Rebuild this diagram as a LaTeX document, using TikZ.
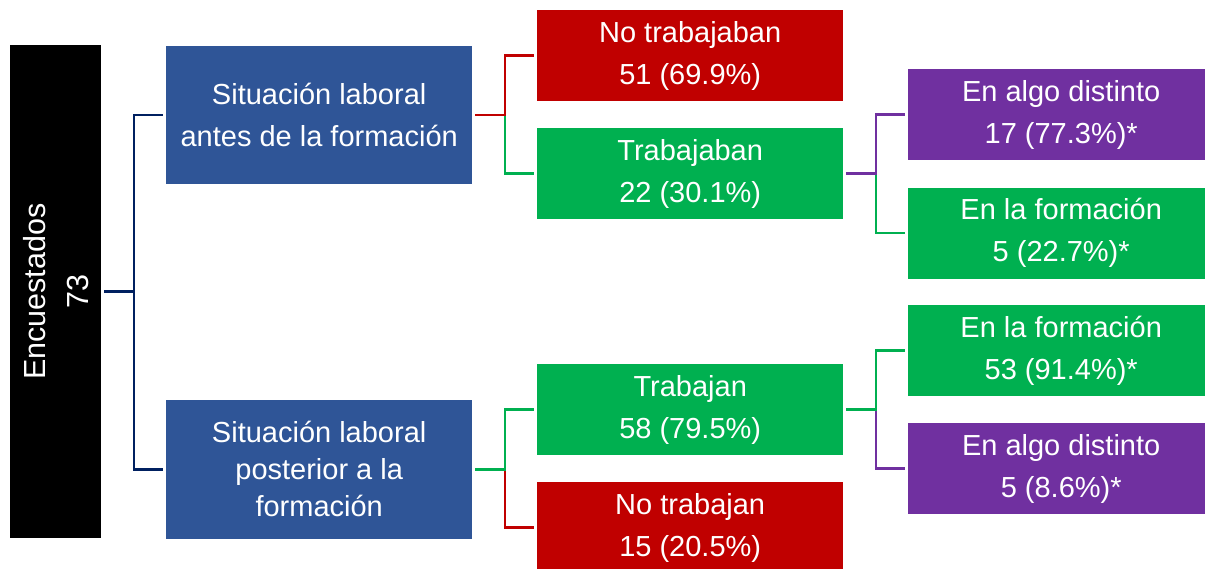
\documentclass[tikz,border=0pt]{standalone}
\usepackage{fontspec}
\setmainfont{Liberation Sans}
\definecolor{cblue}{HTML}{2F5597}
\definecolor{cred}{HTML}{C00000}
\definecolor{cgreen}{HTML}{00B050}
\definecolor{cpurple}{HTML}{7030A0}
\definecolor{cnavy}{HTML}{002060}
\tikzset{
  box/.style={rectangle, inner sep=0pt, anchor=north west, text=white, align=center,
    font=\fontsize{29}{42}\selectfont},
  smallbox/.style={box, minimum width=306pt, minimum height=91pt},
  bigbox/.style={box, fill=cblue, minimum width=306pt, minimum height=138.5pt},
  conn/.style={line width=2.6pt, shorten <=3pt, shorten >=3pt}
}
\begin{document}
\begin{tikzpicture}[x=1pt,y=-1pt]
\useasboundingbox (0,0) rectangle (1205,569);
\clip (0,0) rectangle (1205,569);
\fill[white] (0,0) rectangle (1205,569);
% boxes
\node[box, fill=black, minimum width=91pt, minimum height=493pt] (enc) at (10,45) {};
\node[rotate=90, text=white, align=center, font=\fontsize{30.5}{43}\selectfont] (enctext) at (enc.center) {Encuestados\\73};
\node[bigbox] (b1) at (166,45.5) {Situación laboral\\antes de la formación};
\node[bigbox, font=\fontsize{29}{37}\selectfont] (b2) at (166,400) {Situación laboral\\posterior a la\\formación};
\node[smallbox, fill=cred] (r1) at (537,10) {No trabajaban\\51 (69.9\%)};
\node[smallbox, fill=cgreen] (g1) at (537,128) {Trabajaban\\22 (30.1\%)};
\node[smallbox, fill=cgreen] (g4) at (537,364) {Trabajan\\58 (79.5\%)};
\node[smallbox, fill=cred] (r2) at (537,482) {No trabajan\\15 (20.5\%)};
\node[smallbox, fill=cpurple] (p1) at (908,69) {En algo distinto\\17 (77.3\%)*};
\node[smallbox, fill=cgreen] (g2) at (908,187.5) {En la formación\\5 (22.7\%)*};
\node[smallbox, fill=cgreen] (g3) at (908,305) {En la formación\\53 (91.4\%)*};
\node[smallbox, fill=cpurple] (p2) at (908,423) {En algo distinto\\5 (8.6\%)*};
% connectors
\draw[conn, cnavy] (enc.east) -- ++(32.5,0) |- (b2.west);
\draw[conn, cnavy] (enc.east) -- ++(32.5,0) |- (b1.west);
\draw[conn, cgreen] (b1.east) -- ++(32.5,0) |- (g1.west);
\draw[conn, cred] (b1.east) -- ++(32.5,0) |- (r1.west);
\draw[conn, cred] (b2.east) -- ++(32.5,0) |- (r2.west);
\draw[conn, cgreen] (b2.east) -- ++(32.5,0) |- (g4.west);
\draw[conn, cgreen] (g1.east) -- ++(32.5,0) |- (g2.west);
\draw[conn, cpurple] (g1.east) -- ++(32.5,0) |- (p1.west);
\draw[conn, cpurple] (g4.east) -- ++(32.5,0) |- (p2.west);
\draw[conn, cgreen] (g4.east) -- ++(32.5,0) |- (g3.west);
\end{tikzpicture}
\end{document}
